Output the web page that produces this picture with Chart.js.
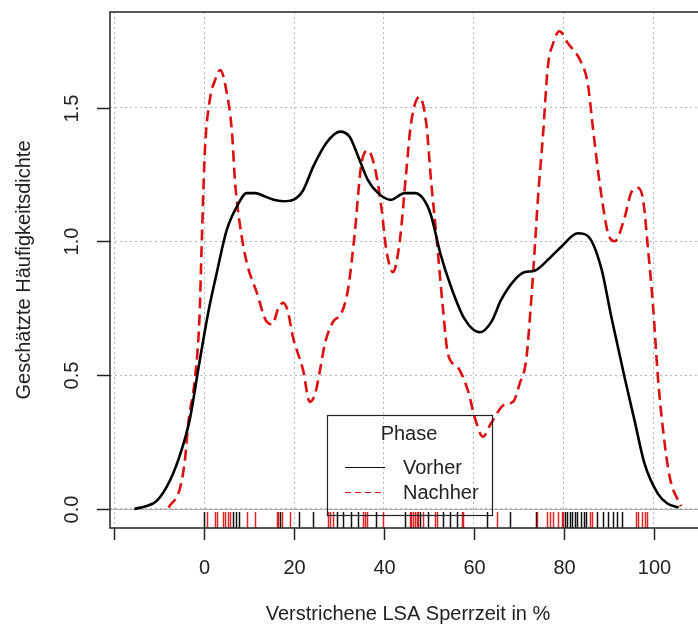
<!DOCTYPE html>
<html>
<head>
<meta charset="utf-8">
<script src="https://cdn.jsdelivr.net/npm/chart.js@4.4.1/dist/chart.umd.min.js"></script>
<style>
  html, body { margin: 0; padding: 0; background: #fff; }
  #wrap { width: 698px; height: 630px; }
</style>
</head>
<body>
<div id="wrap"><canvas id="chart"></canvas></div>
<script>
// Vorher (black, solid) density estimate
var vorherX = [-15.5, -13, -10.5, -7.6, -5, -3.1, -1.3, 1, 2.8, 5, 7.3, 9.5, 11.5, 13.2, 15.5, 17.6, 19.8, 22, 24.3, 27.3, 30.2, 32.4, 34.2, 36.4, 38.7, 41.5, 44.6, 46.8, 48.7, 50.4, 52.6, 54.9, 57.9, 61.3, 63.9, 66, 69, 71.3, 73.5, 76.4, 79.4, 83.1, 85.3, 88.3, 90.5, 93.5, 95.7, 97.9, 100.9, 103, 105.5]
var vorherY = [0, 0.01, 0.03, 0.105, 0.22, 0.34, 0.52, 0.74, 0.88, 1.04, 1.13, 1.18, 1.18, 1.17, 1.155, 1.15, 1.155, 1.19, 1.28, 1.37, 1.41, 1.39, 1.32, 1.23, 1.18, 1.155, 1.18, 1.18, 1.16, 1.1, 0.95, 0.83, 0.71, 0.66, 0.70, 0.78, 0.855, 0.885, 0.89, 0.93, 0.98, 1.03, 1.02, 0.90, 0.72, 0.49, 0.33, 0.17, 0.056, 0.02, 0.005]

// Nachher (red, dashed) density estimate
var nachherX = [-7.9, -5.3, -4.2, -3.5, -2, -1, -0.5, 0.2, 1.3, 2.4, 3.6, 5, 6.2, 6.9, 8, 9.5, 11.7, 13.9, 15.2, 16.5, 17.6, 18.6, 19.8, 22, 23.5, 24.7, 25.8, 26.9, 28.7, 30.5, 32, 33.5, 34.9, 36.4, 37.9, 39.4, 40.5, 42, 43.5, 44.9, 46, 47.9, 49.4, 50.5, 51.6, 53.1, 54.2, 56.4, 58.7, 60.2, 62, 63.8, 66.8, 68.7, 70.2, 71.6, 72.6, 73.5, 74.2, 75.4, 76.4, 77.6, 79, 80.9, 83.8, 85.3, 86.4, 87.6, 88.7, 89.8, 91.3, 93.5, 94.9, 96.4, 97.6, 98.7, 99.8, 100.9, 102, 103.5, 106]
var nachherY = [0.005, 0.08, 0.19, 0.32, 0.49, 0.72, 1.0, 1.34, 1.53, 1.6, 1.64, 1.56, 1.41, 1.22, 1.06, 0.92, 0.81, 0.70, 0.69, 0.75, 0.77, 0.74, 0.64, 0.52, 0.40, 0.43, 0.52, 0.62, 0.70, 0.73, 0.82, 1.03, 1.28, 1.34, 1.28, 1.13, 0.97, 0.885, 1.0, 1.25, 1.44, 1.54, 1.44, 1.22, 1.03, 0.75, 0.58, 0.53, 0.44, 0.34, 0.27, 0.32, 0.39, 0.40, 0.47, 0.555, 0.75, 0.97, 1.155, 1.41, 1.65, 1.74, 1.785, 1.74, 1.67, 1.59, 1.43, 1.26, 1.13, 1.03, 1.0, 1.09, 1.18, 1.20, 1.155, 0.97, 0.76, 0.49, 0.30, 0.12, 0.01]

// rug (observations)
var rugVorher = [0.07, 6.4, 7.1, 7.8, 16.9, 21.2, 24.3, 29.6, 31, 32.6, 34.3, 38.2, 44.7, 48.1, 49.8, 53.2, 54.7, 56.2, 62.8, 68.1, 73.7, 80.2, 80.6, 81.3, 81.9, 82.4, 82.8, 83.7, 84.4, 85.0, 87.3, 88.7, 89.8, 90.9, 91.8, 93.0]
var rugNachher = [0.6, 2.4, 2.8, 4.2, 4.7, 5.3, 5.8, 9.5, 11.3, 16.2, 16.5, 17.3, 19.1, 27.5, 28, 28.6, 35.4, 35.8, 36.2, 39.8, 45.8, 46.1, 46.5, 46.9, 47.3, 47.6, 48.6, 51.3, 51.7, 57.3, 57.6, 65.2, 74.1, 76.3, 76.9, 77.6, 78.7, 79.5, 79.8, 85.8, 86.2, 96, 96.5, 97.3, 98, 98.4]

var xTicks = [-20, 0, 20, 40, 60, 80, 100]
var xTickLabels = ['', '0', '20', '40', '60', '80', '100']
var yTicks = [0, 0.5, 1.0, 1.5]
var xMin = -20.9, xMax = 109.8
var yMin = -0.0714, yMax = 1.857

var xTitle = 'Verstrichene LSA Sperrzeit in %'
var yTitle = 'Geschätzte Häufigkeitsdichte'
var legendTitle = 'Phase'
var seriesNames = ['Vorher', 'Nachher']

var RED = '#dc1010'
var FONT = '20px "Liberation Sans", Arial, sans-serif'
var TXT = '#222'

function toPoints(xs, ys) {
  return xs.map(function (x, i) { return { x: x, y: ys[i] } })
}

var decor = {
  id: 'decor',
  beforeDatasetsDraw: function (chart) {
    var c = chart.ctx, a = chart.chartArea, y = chart.scales.y
    // zero line
    c.save()
    c.strokeStyle = '#b0b0b0'
    c.lineWidth = 1.2
    var y0 = Math.round(y.getPixelForValue(0)) + 0.5
    c.beginPath(); c.moveTo(a.left, y0); c.lineTo(a.right, y0); c.stroke()
    c.restore()
  },
  afterDraw: function (chart) {
    var c = chart.ctx, a = chart.chartArea
    var xs = chart.scales.x, ys = chart.scales.y
    c.save()

    // rug
    c.lineWidth = 1.5
    rugVorher.forEach(function (v) {
      var px = Math.round(xs.getPixelForValue(v)) + 0.5
      c.strokeStyle = '#111'
      c.beginPath(); c.moveTo(px, a.bottom); c.lineTo(px, a.bottom - 16); c.stroke()
    })
    rugNachher.forEach(function (v) {
      var px = Math.round(xs.getPixelForValue(v)) + 0.5
      c.strokeStyle = 'rgba(215,16,16,0.9)'
      c.beginPath(); c.moveTo(px, a.bottom); c.lineTo(px, a.bottom - 16); c.stroke()
    })

    // box
    c.strokeStyle = '#222'
    c.lineWidth = 1.5
    c.beginPath()
    c.moveTo(a.right, a.top); c.lineTo(a.left, a.top); c.lineTo(a.left, a.bottom); c.lineTo(a.right, a.bottom)
    c.stroke()

    // x axis ticks + labels
    c.fillStyle = TXT
    c.font = FONT
    c.textAlign = 'center'
    c.textBaseline = 'middle'
    c.lineWidth = 1.5
    xTicks.forEach(function (v, i) {
      var px = Math.round(xs.getPixelForValue(v)) + 0.5
      c.beginPath(); c.moveTo(px, a.bottom); c.lineTo(px, a.bottom + 12); c.stroke()
      if (xTickLabels[i]) c.fillText(xTickLabels[i], px, a.bottom + 40)
    })

    // y axis ticks + rotated labels
    yTicks.forEach(function (v) {
      var py = Math.round(ys.getPixelForValue(v)) + 0.5
      c.beginPath(); c.moveTo(a.left, py); c.lineTo(a.left - 13, py); c.stroke()
      c.save()
      c.translate(a.left - 38, py)
      c.rotate(-Math.PI / 2)
      c.fillText(v.toFixed(1), 0, 0)
      c.restore()
    })

    // axis titles
    c.fillText(xTitle, 408, a.bottom + 86)
    c.save()
    c.translate(24, (a.top + a.bottom) / 2)
    c.rotate(-Math.PI / 2)
    c.fillText(yTitle, 0, 0)
    c.restore()

    // legend
    var lx = 327, ly = 415, lw = 165, lh = 100
    c.lineWidth = 1.2
    c.strokeStyle = '#222'
    c.strokeRect(lx + 0.5, ly + 0.5, lw, lh)
    c.fillText(legendTitle, lx + 82, ly + 19)
    c.textAlign = 'left'
    c.lineWidth = 1.2
    c.strokeStyle = '#111'
    c.beginPath(); c.moveTo(lx + 18, ly + 52.5); c.lineTo(lx + 58, ly + 52.5); c.stroke()
    c.fillText(seriesNames[0], lx + 76, ly + 53)
    c.strokeStyle = RED
    c.setLineDash([6, 4])
    c.beginPath(); c.moveTo(lx + 18, ly + 77.5); c.lineTo(lx + 58, ly + 77.5); c.stroke()
    c.setLineDash([])
    c.fillText(seriesNames[1], lx + 76, ly + 78)

    c.restore()
  }
}

var ctx = document.getElementById('chart').getContext('2d')
var densityChart = new Chart(ctx, {
  type: 'scatter',
  data: {
    datasets: [
      {
        label: seriesNames[0],
        data: toPoints(vorherX, vorherY),
        showLine: true,
        borderColor: '#000',
        borderWidth: 2.6,
        pointRadius: 0,
        cubicInterpolationMode: 'monotone'
      },
      {
        label: seriesNames[1],
        data: toPoints(nachherX, nachherY),
        showLine: true,
        borderColor: RED,
        borderWidth: 2.6,
        borderDash: [11, 6],
        pointRadius: 0,
        cubicInterpolationMode: 'monotone'
      }
    ]
  },
  options: {
    responsive: true,
    maintainAspectRatio: false,
    animation: false,
    devicePixelRatio: 1,
    layout: { padding: { left: 110, top: 12, right: 0, bottom: 102 } },
    plugins: { legend: { display: false }, tooltip: { enabled: false } },
    scales: {
      x: {
        type: 'linear', min: xMin, max: xMax,
        afterBuildTicks: function (s) { s.ticks = xTicks.map(function (v) { return { value: v } }) },
        grid: { color: '#b8b8b8', lineWidth: 1, drawTicks: false },
        border: { display: false, dash: [2, 3] },
        ticks: { display: false }
      },
      y: {
        type: 'linear', min: yMin, max: yMax,
        afterBuildTicks: function (s) { s.ticks = yTicks.map(function (v) { return { value: v } }) },
        grid: { color: '#b8b8b8', lineWidth: 1, drawTicks: false },
        border: { display: false, dash: [2, 3] },
        ticks: { display: false }
      }
    }
  },
  plugins: [decor]
})
</script>
</body>
</html>
